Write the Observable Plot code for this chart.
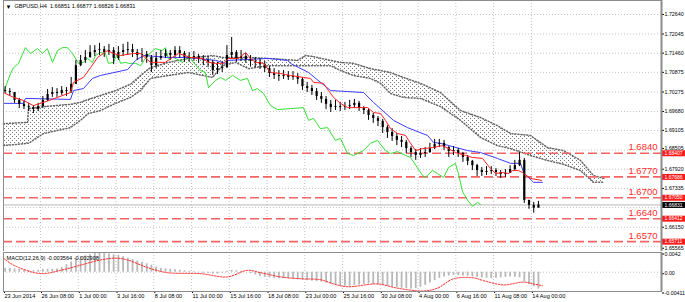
<!DOCTYPE html>
<html><head><meta charset="utf-8">
<script src="https://cdn.jsdelivr.net/npm/d3@7"></script>
<script src="https://cdn.jsdelivr.net/npm/@observablehq/plot@0.6"></script>
<style>
html,body{margin:0;padding:0;background:#fff;}
#chart{position:relative;width:685px;height:302px;overflow:hidden;}
#chart svg{display:block;position:absolute;left:0;}
</style></head>
<body><div id="chart"></div>
<script>
// ---------- data ----------
const symbolTitle = "GBPUSD,H4  1.66851 1.66877 1.66826 1.66831";
const macdTitle = "MACD(12,26,9) -0.003564 -0.002908";
// 4h bar index of first candle (every second 4h bar shown)
const firstBar = 5, barStep = 2, firstOpen = 1.7032;
const candleClose = [
1.7029,1.7026,1.7002,1.6990,1.6983,1.6980,1.6974,1.6983,1.7002,1.7020,
1.7026,1.7023,1.7032,1.7029,1.7051,1.7108,1.7124,1.7133,1.7148,1.7154,
1.7157,1.7148,1.7154,1.7130,1.7148,1.7154,1.7157,1.7148,1.7139,1.7142,
1.7133,1.7108,1.7130,1.7136,1.7145,1.7139,1.7154,1.7145,1.7133,1.7130,
1.7136,1.7127,1.7124,1.7118,1.7093,1.7099,1.7102,1.7139,1.7148,1.7130,
1.7136,1.7127,1.7121,1.7118,1.7111,1.7099,1.7084,1.7078,1.7075,1.7078,
1.7072,1.7075,1.7066,1.7044,1.7038,1.7029,1.7014,1.7005,1.6990,1.6980,
1.6983,1.6980,1.6983,1.6986,1.6993,1.6977,1.6971,1.6956,1.6947,1.6938,
1.6919,1.6904,1.6892,1.6880,1.6874,1.6855,1.6843,1.6834,1.6840,1.6843,
1.6855,1.6868,1.6871,1.6858,1.6846,1.6849,1.6840,1.6828,1.6816,1.6803,
1.6788,1.6782,1.6785,1.6788,1.6782,1.6776,1.6779,1.6791,1.6803,1.6819,
1.6697,1.6682,1.6673,1.6683];
const candleHigh = [
1.7044,1.7038,1.7026,1.7008,1.6999,1.6993,1.6986,1.6993,1.7014,1.7035,
1.7041,1.7038,1.7044,1.7041,1.7072,1.7124,1.7139,1.7154,1.7169,1.7169,
1.7176,1.7166,1.7173,1.7163,1.7166,1.7173,1.7179,1.7173,1.7157,1.7160,
1.7151,1.7139,1.7148,1.7154,1.7157,1.7154,1.7166,1.7166,1.7151,1.7148,
1.7151,1.7142,1.7139,1.7136,1.7124,1.7118,1.7121,1.7169,1.7194,1.7154,
1.7154,1.7145,1.7139,1.7133,1.7130,1.7121,1.7105,1.7099,1.7093,1.7093,
1.7090,1.7090,1.7084,1.7072,1.7057,1.7048,1.7038,1.7026,1.7014,1.7002,
1.7002,1.6996,1.6996,1.7002,1.7005,1.6999,1.6983,1.6977,1.6962,1.6953,
1.6944,1.6925,1.6916,1.6901,1.6892,1.6880,1.6861,1.6852,1.6855,1.6858,
1.6871,1.6883,1.6883,1.6880,1.6861,1.6861,1.6855,1.6843,1.6834,1.6819,
1.6807,1.6797,1.6800,1.6800,1.6794,1.6788,1.6791,1.6803,1.6819,1.6843,
1.6825,1.6697,1.6691,1.6694];
const candleLow = [
1.7023,1.7014,1.6993,1.6977,1.6974,1.6968,1.6962,1.6968,1.6977,1.6999,
1.7011,1.7011,1.7017,1.7014,1.7023,1.7051,1.7105,1.7115,1.7130,1.7136,
1.7139,1.7133,1.7139,1.7111,1.7124,1.7136,1.7139,1.7133,1.7124,1.7118,
1.7115,1.7087,1.7099,1.7124,1.7130,1.7124,1.7133,1.7130,1.7118,1.7118,
1.7121,1.7115,1.7108,1.7102,1.7078,1.7081,1.7087,1.7099,1.7130,1.7118,
1.7121,1.7115,1.7105,1.7102,1.7096,1.7087,1.7072,1.7066,1.7060,1.7066,
1.7063,1.7063,1.7051,1.7032,1.7026,1.7017,1.7002,1.6993,1.6974,1.6965,
1.6971,1.6968,1.6971,1.6974,1.6977,1.6968,1.6959,1.6941,1.6932,1.6922,
1.6901,1.6886,1.6877,1.6864,1.6858,1.6840,1.6828,1.6819,1.6825,1.6828,
1.6840,1.6852,1.6858,1.6849,1.6828,1.6834,1.6828,1.6813,1.6803,1.6788,
1.6770,1.6770,1.6773,1.6776,1.6770,1.6764,1.6767,1.6779,1.6788,1.6800,
1.6688,1.6670,1.6658,1.6676];
// Ichimoku lines: [bar, price]
const tenkan = [[4.3,1.7026],[8.6,1.7011],[12.8,1.7002],[17.0,1.6986],[21.3,1.6996],[27.2,1.7011],[32.7,1.7026],[34.0,1.7057],[38.2,1.7072],[41.2,1.7102],[44.2,1.7133],[48.4,1.7154],[51.0,1.7145],[53.9,1.7139],[59.4,1.7145],[62.4,1.7145],[66.6,1.7118],[70.0,1.7118],[72.9,1.7118],[75.9,1.7133],[78.5,1.7145],[83.6,1.7133],[88.6,1.7130],[91.2,1.7118],[94.2,1.7115],[97.5,1.7115],[99.7,1.7130],[103.9,1.7130],[106.9,1.7148],[109.0,1.7130],[111.1,1.7118],[114.5,1.7115],[117.5,1.7087],[121.7,1.7084],[125.9,1.7078],[131.4,1.7072],[134.4,1.7069],[135.7,1.7057],[139.9,1.7054],[142.0,1.7032],[144.2,1.7011],[147.1,1.6993],[150.1,1.6980],[158.6,1.6980],[161.1,1.6965],[164.1,1.6962],[166.2,1.6941],[168.3,1.6916],[171.3,1.6901],[174.7,1.6895],[176.0,1.6880],[178.9,1.6849],[181.9,1.6855],[186.1,1.6858],[190.3,1.6864],[192.9,1.6855],[195.8,1.6843],[200.1,1.6834],[203.1,1.6828],[207.3,1.6825],[210.7,1.6794],[212.8,1.6779],[215.8,1.6782],[218.3,1.6779],[220.0,1.6788],[222.5,1.6788],[224.2,1.6782],[227.6,1.6764],[232.3,1.6758]];
const kijun = [[4.3,1.6993],[12.8,1.6993],[13.6,1.7008],[32.7,1.7005],[34.0,1.7032],[38.2,1.7038],[42.0,1.7069],[45.4,1.7078],[56.9,1.7096],[60.3,1.7124],[63.7,1.7139],[74.2,1.7133],[82.7,1.7133],[94.2,1.7124],[98.4,1.7115],[99.7,1.7124],[116.6,1.7130],[124.7,1.7124],[125.9,1.7115],[133.6,1.7087],[142.9,1.7032],[156.9,1.7026],[161.1,1.6996],[169.6,1.6941],[175.5,1.6919],[184.0,1.6895],[186.5,1.6874],[189.5,1.6871],[200.9,1.6849],[206.4,1.6843],[213.6,1.6825],[219.2,1.6810],[223.4,1.6810],[224.7,1.6782],[228.9,1.6752],[232.7,1.6752]];
const chikou = [[4.3,1.7026],[7.3,1.7084],[8.6,1.7102],[10.7,1.7115],[13.6,1.7163],[15.8,1.7145],[18.7,1.7160],[20.8,1.7145],[22.9,1.7160],[25.1,1.7118],[27.2,1.7154],[29.3,1.7163],[31.4,1.7163],[33.6,1.7145],[36.1,1.7115],[38.2,1.7118],[39.9,1.7130],[42.0,1.7118],[43.3,1.7139],[45.4,1.7148],[47.5,1.7145],[48.8,1.7115],[50.9,1.7118],[52.6,1.7145],[53.9,1.7115],[56.0,1.7118],[57.3,1.7115],[60.3,1.7115],[62.4,1.7108],[65.3,1.7139],[68.7,1.7160],[71.7,1.7154],[72.9,1.7163],[74.2,1.7130],[76.4,1.7133],[80.2,1.7118],[82.7,1.7139],[84.8,1.7118],[87.8,1.7093],[89.9,1.7087],[91.2,1.7041],[94.2,1.7063],[96.3,1.7072],[98.4,1.7063],[101.4,1.7078],[104.7,1.7063],[107.7,1.7069],[109.8,1.7032],[111.9,1.7038],[114.5,1.7023],[117.5,1.6986],[120.4,1.6974],[125.9,1.6977],[131.4,1.6980],[133.6,1.6941],[135.7,1.6947],[138.6,1.6916],[141.6,1.6919],[145.0,1.6880],[147.1,1.6886],[150.1,1.6840],[152.6,1.6834],[156.9,1.6849],[159.8,1.6871],[162.8,1.6880],[166.2,1.6849],[168.3,1.6840],[171.3,1.6846],[174.7,1.6834],[176.8,1.6828],[181.9,1.6773],[183.1,1.6767],[186.1,1.6788],[188.2,1.6779],[190.8,1.6767],[192.9,1.6797],[195.8,1.6810],[197.1,1.6779],[198.8,1.6724],[201.3,1.6694],[203.1,1.6679],[205.2,1.6691],[206.4,1.6685]];
// Kumo (cloud) edges
const cloudBar = [4.3,14.5,14.9,21.3,32.7,36.9,40.3,45.4,51.8,58.1,62.4,66.6,74.2,82.7,92.9,97.1,102.6,108.1,116.6,128.9,132.3,135.3,142.9,147.1,152.6,159.8,164.1,168.3,173.8,181.0,189.5,198.0,206.4,213.6,219.2,227.6,234.8,241.6,248.8,254.3,259.0];
const cloudTop = [1.6931,1.6935,1.6977,1.6983,1.6990,1.6996,1.7005,1.7017,1.7032,1.7051,1.7078,1.7102,1.7118,1.7130,1.7139,1.7133,1.7133,1.7133,1.7130,1.7124,1.7139,1.7136,1.7124,1.7118,1.7115,1.7099,1.7093,1.7087,1.7072,1.7054,1.7026,1.6971,1.6950,1.6925,1.6901,1.6895,1.6858,1.6849,1.6819,1.6773,1.6764];
const cloudBottom = [1.6864,1.6871,1.6871,1.6901,1.6919,1.6941,1.6962,1.6971,1.6993,1.7011,1.7032,1.7069,1.7078,1.7087,1.7072,1.7108,1.7118,1.7099,1.7108,1.7108,1.7108,1.7108,1.7108,1.7093,1.7078,1.7069,1.7054,1.7023,1.7011,1.7008,1.6983,1.6941,1.6889,1.6864,1.6855,1.6834,1.6819,1.6807,1.6788,1.6752,1.6752];
// horizontal levels
const levelValues = [1.68407,1.67686,1.67050,1.66412,1.65711];
const levelLabels = ["1.6840","1.6770","1.6700","1.6640","1.6570"];
const bidPrice = 1.66831;
const priceGrid = [1.72640,1.72045,1.71460,1.70875,1.70275,1.69680,1.69105,1.68505,1.67920,1.67335,1.66750,1.66150,1.65565];
const priceLabels = [1.72640,1.72045,1.71460,1.70875,1.70275,1.69680,1.69105,1.67920,1.67335,1.66150];
const priceLabelsNearTags = [1.68505];
const priceLabelBottom = [1.65565];
// time axis (4h bar index)
const timeTickBars = [4.32,20,36,52,68,84,100,116,132,148,164,180,196,212,228];
const timeTickLabels = ["23 Jun 2014","26 Jun 08:00","1 Jul 00:00","3 Jul 16:00","8 Jul 08:00","11 Jul 00:00","15 Jul 16:00","18 Jul 08:00","23 Jul 00:00","25 Jul 16:00","30 Jul 08:00","4 Aug 00:00","6 Aug 16:00","11 Aug 08:00","14 Aug 00:00"];
// MACD
const macdHist = [
0.0008,0.0008,0.0007,0.0006,0.0004,0.0003,0.0003,0.0004,0.0006,0.0006,
0.0006,0.0007,0.0010,0.0016,0.0022,0.0028,0.0033,0.0035,0.0037,0.0040,
0.0042,0.0041,0.0039,0.0037,0.0036,0.0033,0.0030,0.0027,0.0024,0.0021,
0.0018,0.0015,0.0011,0.0008,0.0007,0.0006,0.0005,0.0004,0.0003,0.0002,
0.0001,-0.0001,-0.0002,-0.0003,-0.0004,-0.0004,-0.0002,0.0002,0.0004,0.0003,
0.0002,0.0000,-0.0003,-0.0006,-0.0009,-0.0011,-0.0012,-0.0013,-0.0014,-0.0014,
-0.0014,-0.0015,-0.0016,-0.0017,-0.0018,-0.0019,-0.0020,-0.0021,-0.0023,-0.0025,
-0.0027,-0.0030,-0.0030,-0.0030,-0.0029,-0.0027,-0.0026,-0.0025,-0.0026,-0.0027,
-0.0028,-0.0030,-0.0032,-0.0033,-0.0034,-0.0035,-0.0036,-0.0035,-0.0032,-0.0028,
-0.0023,-0.0018,-0.0013,-0.0010,-0.0008,-0.0007,-0.0007,-0.0008,-0.0009,-0.0010,
-0.0011,-0.0012,-0.0013,-0.0014,-0.0013,-0.0012,-0.0011,-0.0010,-0.0011,-0.0012,
-0.0020,-0.0026,-0.0031,-0.0036];
const macdSignal = [[4.3,0.0030],[8.6,0.0015],[20,-0.0003],[28.5,0.0004],[36.9,0.0015],[45.4,0.0026],[51.8,0.0030],[56.9,0.0026],[65.3,0.0010],[73.8,-0.0001],[87.8,-0.0003],[99.2,-0.0010],[107.7,0.0004],[113.2,-0.0001],[121.7,-0.0010],[130.2,-0.0014],[138.6,-0.0016],[144.2,-0.0025],[150.1,-0.0031],[162.8,-0.0025],[171.3,-0.0034],[182.3,-0.0040],[188.2,-0.0034],[195.0,-0.0014],[203.5,-0.0012],[207.7,-0.0018],[216.2,-0.0027],[224.7,-0.0021],[228.9,-0.0025],[232.7,-0.0029]];
const macdTicks = [0.0042, 0, -0.00411];
const macdTickLabels = ["0.0042","0.00","-0.00411"];

// ---------- derived tables ----------
const candles = candleClose.map((c, k) => ({bar: firstBar + barStep * k, open: k ? candleClose[k - 1] : firstOpen, close: c, high: candleHigh[k], low: candleLow[k]}));
const cloud = cloudBar.map((b, i) => ({bar: b, a: cloudTop[i], b: cloudBottom[i]}));
const levels = levelValues.map((v, i) => ({v, label: levelLabels[i]}));
const hist = macdHist.map((v, k) => ({bar: firstBar + barStep * k, v}));
const timeLabel = new Map(timeTickBars.map((b, i) => [b, timeTickLabels[i]]));
const macdLabel = new Map(macdTicks.map((b, i) => [b, macdTickLabels[i]]));
const gridBars = timeTickBars.slice(1);

const FONT = "Liberation Sans, Arial, sans-serif";
const xDomain = [4.32, 283.14];
const dotted = {stroke: "#c4c4c4", strokeDasharray: "1,2"};
const priceAxis = {anchor: "right", label: null, tickFormat: d => d.toFixed(5), tickSize: 2, tickPadding: 1, fontSize: 5.3, fill: "#000"};

const main = Plot.plot({
  width: 685, height: 251,
  marginLeft: 3, marginRight: 24, marginTop: 0, marginBottom: 0,
  x: {domain: xDomain, axis: null},
  y: {domain: [1.65411, 1.73067], axis: null},
  style: {fontFamily: FONT, background: "white", overflow: "visible"},
  marks: [
    Plot.ruleY(priceGrid, dotted),
    Plot.ruleX(gridBars, dotted),
    Plot.areaY(cloud, {x: "bar", y1: "a", y2: "b", fill: "url(#kumoDots)"}),
    Plot.line(cloud, {x: "bar", y: "a", stroke: "#666", strokeDasharray: "1,2"}),
    Plot.line(cloud, {x: "bar", y: "b", stroke: "#666", strokeDasharray: "1,2"}),
    Plot.ruleY(levels, {y: "v", stroke: "#f46464", strokeWidth: 1.6, strokeDasharray: "9,4"}),
    Plot.ruleY([bidPrice], {stroke: "#b8b8b8", strokeWidth: 1}),
    Plot.text(levels, {y: "v", text: "label", frameAnchor: "right", textAnchor: "end", dx: -4, dy: -6, fill: "#ff2a2a", fontSize: 9.5}),
    Plot.line(chikou, {x: d => d[0], y: d => d[1], stroke: "#33e033", strokeWidth: 1}),
    Plot.line(kijun, {x: d => d[0], y: d => d[1], stroke: "#3c3cff", strokeWidth: 1}),
    Plot.ruleX(candles, {x: "bar", y1: "low", y2: "high", stroke: "#000", strokeWidth: 1}),
    Plot.ruleX(candles, {x: "bar", y1: "open", y2: "close", stroke: "#000", strokeWidth: 2.2}),
    Plot.line(tenkan, {x: d => d[0], y: d => d[1], stroke: "#ff2020", strokeWidth: 1}),
    Plot.axisY(priceLabels, priceAxis),
    Plot.axisY(priceLabelsNearTags, {...priceAxis, dy: -1.5}),
    Plot.axisY(priceLabelBottom, {...priceAxis, dy: 1.8}),
    Plot.ruleY(levels, {y: "v", x1: xDomain[1], x2: xDomain[1] + 12, stroke: "#ff1a1a", strokeWidth: 6}),
    Plot.text(levels, {y: "v", text: d => d.v.toFixed(5), frameAnchor: "right", textAnchor: "start", dx: 3, fill: "white", fontSize: 5}),
    Plot.ruleY([bidPrice], {x1: xDomain[1], x2: xDomain[1] + 12, stroke: "#000", strokeWidth: 6}),
    Plot.text([bidPrice], {y: d => d, text: d => d.toFixed(5), frameAnchor: "right", textAnchor: "start", dx: 3, fill: "white", fontSize: 5}),
    Plot.ruleX([xDomain[1]], {stroke: "#8c8c8c", strokeWidth: 2}),
    Plot.frame({stroke: "#8c8c8c"}),
    Plot.text(["\u25BC"], {frameAnchor: "top-left", dx: 2, dy: 4, fontSize: 6, fill: "#000"}),
    Plot.text([symbolTitle], {frameAnchor: "top-left", dx: 11, dy: 4, fontSize: 5.6, textAnchor: "start", fill: "#000"})
  ]
});

// dot hatch pattern for the kumo
const NS = "http://www.w3.org/2000/svg";
const defs = document.createElementNS(NS, "defs");
const pat = document.createElementNS(NS, "pattern");
pat.setAttribute("id", "kumoDots");
pat.setAttribute("patternUnits", "userSpaceOnUse");
pat.setAttribute("width", "4");
pat.setAttribute("height", "4");
for (const [px, py] of [[0, 0], [2, 2]]) {
  const r = document.createElementNS(NS, "rect");
  r.setAttribute("x", px); r.setAttribute("y", py);
  r.setAttribute("width", "1"); r.setAttribute("height", "1");
  r.setAttribute("fill", "#777");
  pat.appendChild(r);
}
defs.appendChild(pat);
main.insertBefore(defs, main.firstChild);
main.style.top = "0px";

const macd = Plot.plot({
  width: 685, height: 51,
  marginLeft: 3, marginRight: 24, marginTop: 1, marginBottom: 11,
  x: {domain: xDomain, axis: null},
  y: {domain: [-0.00411, 0.0042], axis: null},
  style: {fontFamily: FONT, background: "white", overflow: "visible"},
  marks: [
    Plot.ruleX(gridBars, dotted),
    Plot.ruleY([0], dotted),
    Plot.ruleX(hist, {x: "bar", y1: 0, y2: "v", stroke: "#b8b8b8", strokeWidth: 1.8}),
    Plot.line(macdSignal, {x: d => d[0], y: d => d[1], stroke: "#ff2020", strokeWidth: 1, strokeDasharray: "1.5,1.5", curve: "catmull-rom"}),
    Plot.axisY(macdTicks, {anchor: "right", label: null, tickFormat: d => macdLabel.get(d), tickSize: 2, tickPadding: 1, fontSize: 5.3, fill: "#000", dy: 1.5}),
    Plot.axisX(timeTickBars, {anchor: "bottom", label: null, tickFormat: d => timeLabel.get(d), textAnchor: "start", tickSize: 2, tickPadding: 1, fontSize: 5.6, fill: "#000", dx: 1}),
    Plot.ruleX([xDomain[1]], {stroke: "#8c8c8c", strokeWidth: 2}),
    Plot.frame({stroke: "#8c8c8c"}),
    Plot.text([macdTitle], {frameAnchor: "top-left", dx: 3, dy: 4, fontSize: 5.6, textAnchor: "start", fill: "#000"})
  ]
});
macd.style.top = "251px";

const chart = document.getElementById("chart");
chart.appendChild(main);
chart.appendChild(macd);
</script>
</body></html>
